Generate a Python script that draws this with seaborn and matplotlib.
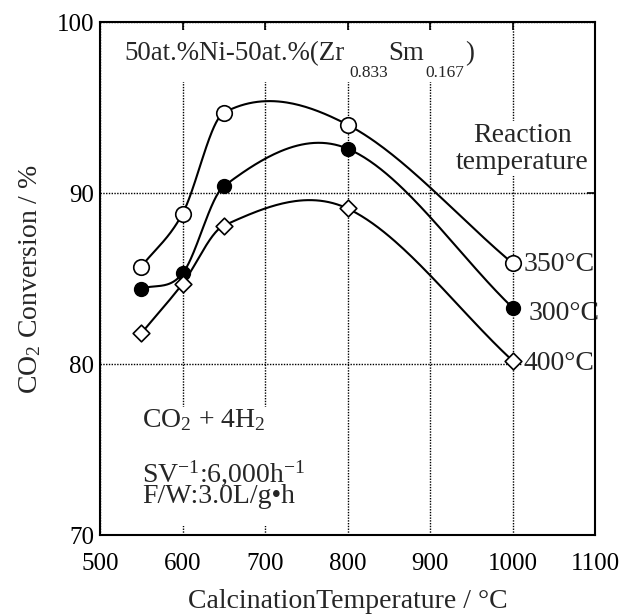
import numpy as np
import matplotlib
matplotlib.use("Agg")
import matplotlib.pyplot as plt
import matplotlib.patches as mpatches
import seaborn as sns

sns.set_theme(style="white")
plt.rcParams['font.family'] = ['Liberation Serif', 'DejaVu Serif']
plt.rcParams['mathtext.fontset'] = 'custom'
plt.rcParams['mathtext.rm'] = 'Liberation Serif'
plt.rcParams['mathtext.it'] = 'Liberation Serif:italic'

# --- data ---
calc_temp = [550, 600, 650, 800, 1000]
conv_350 = [85.7, 88.8, 94.7, 94.0, 85.9]
conv_300 = [84.4, 85.3, 90.4, 92.6, 83.3]
conv_400 = [81.8, 84.7, 88.1, 89.1, 80.2]


def smooth_curve(x, y, n=60):
    # cubic hermite through the points, tangents from neighbouring points
    x = np.asarray(x, float)
    y = np.asarray(y, float)
    m = np.empty_like(y)
    m[1:-1] = (y[2:] - y[:-2]) / (x[2:] - x[:-2])
    m[0] = (y[1] - y[0]) / (x[1] - x[0])
    m[-1] = (y[-1] - y[-2]) / (x[-1] - x[-2])
    xs, ys = [], []
    for i in range(len(x) - 1):
        h = x[i + 1] - x[i]
        s = np.linspace(0, 1, n)
        h00 = 2 * s**3 - 3 * s**2 + 1
        h10 = s**3 - 2 * s**2 + s
        h01 = -2 * s**3 + 3 * s**2
        h11 = s**3 - s**2
        xs.append(x[i] + s * h)
        ys.append(h00 * y[i] + h10 * h * m[i] + h01 * y[i + 1] + h11 * h * m[i + 1])
    return np.concatenate(xs), np.concatenate(ys)


fig = plt.figure(figsize=(6.19, 6.15), dpi=100)
ax = fig.add_axes([0.1616, 0.130, 0.7997, 0.834])

for conv in (conv_350, conv_300, conv_400):
    cx, cy = smooth_curve(calc_temp, conv)
    sns.lineplot(x=cx, y=cy, sort=False, estimator=None, color='black', linewidth=1.5, ax=ax, zorder=2)

sns.scatterplot(x=calc_temp, y=conv_350, marker='o', s=125, color='white', edgecolor='black', linewidth=1.2, ax=ax, zorder=4)
sns.scatterplot(x=calc_temp, y=conv_300, marker='o', s=100, color='black', edgecolor='black', linewidth=1.0, ax=ax, zorder=4)
sns.scatterplot(x=calc_temp, y=conv_400, marker='D', s=72, color='white', edgecolor='black', linewidth=1.2, ax=ax, zorder=4)

ax.set_xlim(500, 1100)
ax.set_ylim(70, 100)
ax.set_xticks(range(500, 1101, 100))
ax.set_yticks([70, 80, 90, 100])
ax.set_axisbelow(True)
ax.grid(True, color='black', linestyle=(0, (1, 1)), linewidth=1.0)
ax.tick_params(direction='in', length=6, width=1.2, top=True, right=True,
               labelsize=18, colors='black')
ax.tick_params(axis='x', pad=13)
ax.tick_params(axis='y', pad=4)
for sp in ax.spines.values():
    sp.set_color('black')
    sp.set_linewidth(1.5)
    sp.set_zorder(3)

ax.set_xlabel('CalcinationTemperature / °C', fontsize=20, labelpad=10)
ax.set_ylabel(r'CO$_{\mathrm{2}}$ Conversion / %', fontsize=20, labelpad=10)

# white areas behind the text blocks that break the grid
ax.add_patch(mpatches.Rectangle((0.03, 0.883), 0.77, 0.102, transform=ax.transAxes,
                                facecolor='white', edgecolor='none', zorder=1))
ax.add_patch(mpatches.Rectangle((0.06, 0.017), 0.34, 0.233, transform=ax.transAxes,
                                facecolor='white', edgecolor='none', zorder=1))

# title with hanging subscripts
t1 = ax.text(0.05, 0.926, '50at.%Ni-50at.%(Zr', transform=ax.transAxes, fontsize=19.4,
             va='baseline', ha='left', zorder=5)
t2 = ax.annotate('0.833', xy=(1, 0.926), xycoords=(t1, 'axes fraction'), xytext=(3, -12),
                 textcoords='offset points', fontsize=12.5, va='baseline', zorder=5)
t3 = ax.annotate('Sm', xy=(1, 0.926), xycoords=(t2, 'axes fraction'), xytext=(0.5, 0),
                 textcoords='offset points', fontsize=19.4, va='baseline', zorder=5)
t4 = ax.annotate('0.167', xy=(1, 0.926), xycoords=(t3, 'axes fraction'), xytext=(1, -12),
                 textcoords='offset points', fontsize=12.5, va='baseline', zorder=5)
ax.annotate(')', xy=(1, 0.926), xycoords=(t4, 'axes fraction'), xytext=(0.5, 0),
            textcoords='offset points', fontsize=19.4, va='baseline', zorder=5)

wb = dict(facecolor='white', edgecolor='none', pad=1)
ax.text(1012, 92.6, 'Reaction\ntemperature', fontsize=20, ha='center', va='center',
        linespacing=1.1, bbox=wb, zorder=2.2)
ax.text(1013, 85.85, '350°C', fontsize=20, ha='left', va='center', zorder=2.2)
ax.text(1020, 82.95, '300°C', fontsize=20, ha='left', va='center', zorder=2.2)
ax.text(1013, 80.05, '400°C', fontsize=20, ha='left', va='center', bbox=wb, zorder=2.2)

ax.text(551, 76.3, r'CO$_{\mathrm{2}}$ + 4H$_{\mathrm{2}}$', fontsize=20, ha='left', va='baseline', zorder=5)
ax.text(551, 71.85, 'SV$^{\\mathrm{-1}}$:6,000h$^{\\mathrm{-1}}$\nF/W:3.0L/g•h', fontsize=20,
        ha='left', va='baseline', linespacing=0.8, zorder=5)

fig.savefig('out.png', dpi=100, facecolor='white')
